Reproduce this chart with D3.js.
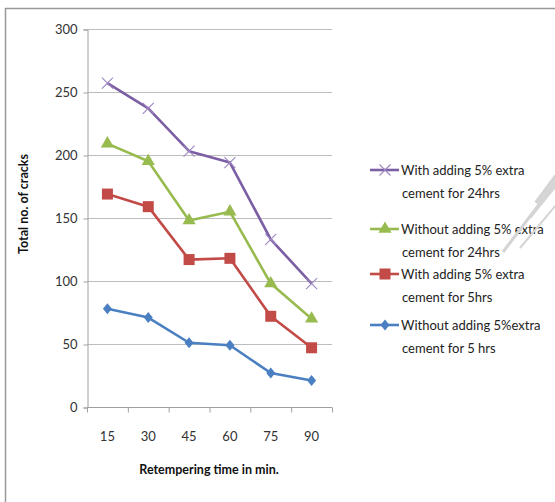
<!DOCTYPE html>
<html>
<head>
<meta charset="utf-8">
<script src="https://cdn.jsdelivr.net/npm/d3@7"></script>
<style>
  html, body { margin: 0; padding: 0; background: #fff; }
  svg text { font-family: Lato, "Open Sans", sans-serif; }
</style>
</head>
<body>
<svg id="chart" width="555" height="502"></svg>
<script>
// Retempering time (min) on the x axis
const categories = ["15", "30", "45", "60", "75", "90"];
const yTicks = [0, 50, 100, 150, 200, 250, 300];

// Total number of cracks for each mix
const withExtra24 = [257, 237, 203, 194, 133, 98];
const withoutExtra24 = [209, 195, 148, 155, 98, 70];
const withExtra5 = [169, 159, 117, 118, 72, 47];
const withoutExtra5 = [78, 71, 51, 49, 27, 21];

const seriesNames = [
  ["With adding 5% extra", "cement for 24hrs"],
  ["Without adding 5% extra", "cement for 24hrs"],
  ["With adding 5% extra", "cement for 5hrs"],
  ["Without adding 5%extra", "cement for 5 hrs"]
];

const series = [
  { name: seriesNames[0], values: withExtra24, color: "#7b5ea3", marker: "x" },
  { name: seriesNames[1], values: withoutExtra24, color: "#98bb4f", marker: "triangle" },
  { name: seriesNames[2], values: withExtra5, color: "#c24a47", marker: "square" },
  { name: seriesNames[3], values: withoutExtra5, color: "#4a7fc1", marker: "diamond" }
];

const svg = d3.select("#chart");

// outer frame (top and left edges)
svg.append("line").attr("x1", 5).attr("y1", 8.5).attr("x2", 555).attr("y2", 8.5)
  .attr("stroke", "#999").attr("stroke-width", 1.5);
svg.append("line").attr("x1", 5.5).attr("y1", 8).attr("x2", 5.5).attr("y2", 502)
  .attr("stroke", "#999").attr("stroke-width", 1.5);

const plot = { left: 87, right: 332, top: 29, bottom: 407 };

const x = d3.scaleBand().domain(categories).range([plot.left, plot.right]);
const y = d3.scaleLinear().domain([0, 300]).range([plot.bottom, plot.top]);

// horizontal gridlines
svg.append("g").selectAll("line").data(yTicks.filter(d => d > 0)).join("line")
  .attr("x1", plot.left).attr("x2", plot.right)
  .attr("y1", d => y(d) + 0.5).attr("y2", d => y(d) + 0.5)
  .attr("stroke", "#bdbdbd").attr("stroke-width", 1.2);

// y axis
const yAxis = svg.append("g").attr("transform", `translate(${plot.left + 0.5},0.5)`)
  .call(d3.axisLeft(y).tickValues(yTicks).tickSize(4).tickPadding(6));
yAxis.select(".domain").attr("stroke", "#a0a0a0");
yAxis.selectAll(".tick line").attr("stroke", "#a0a0a0");
yAxis.selectAll(".tick text").attr("font-size", 13).attr("fill", "#333")
  .attr("font-family", "Lato, sans-serif");

// x axis with ticks between categories
const xAxisG = svg.append("g").attr("transform", `translate(0,${plot.bottom + 0.5})`);
xAxisG.append("line").attr("x1", plot.left).attr("x2", plot.right)
  .attr("stroke", "#a0a0a0");
const bounds = categories.map(c => x(c)).concat([plot.right]);
xAxisG.selectAll("line.tk").data(bounds).join("line").attr("class", "tk")
  .attr("x1", d => d + 0.5).attr("x2", d => d + 0.5).attr("y1", 0).attr("y2", 5)
  .attr("stroke", "#a0a0a0");
xAxisG.selectAll("text").data(categories).join("text")
  .attr("x", d => x(d) + x.bandwidth() / 2).attr("y", 33)
  .attr("text-anchor", "middle").attr("font-size", 13).attr("fill", "#333")
  .text(d => d);

// axis titles
svg.append("text").attr("x", 209).attr("y", 474).attr("text-anchor", "middle")
  .attr("font-size", 12.5).attr("font-weight", "bold").attr("fill", "#111")
  .text("Retempering time in min.");
svg.append("text").attr("transform", "translate(28,204) rotate(-90)")
  .attr("text-anchor", "middle").attr("font-size", 12.5).attr("font-weight", "bold")
  .attr("fill", "#111").text("Total no.  of cracks");

const cx = (c) => x(c) + x.bandwidth() / 2;
const line = d3.line().x((d, i) => cx(categories[i])).y(d => y(d));

function drawMarker(g, type, color, px, py) {
  if (type === "x") {
    const s = 5.5;
    g.append("path").attr("d", `M${px - s},${py - s}L${px + s},${py + s}M${px - s},${py + s}L${px + s},${py - s}`)
      .attr("stroke", "#9d86c2").attr("stroke-width", 1.1).attr("fill", "none");
  } else if (type === "triangle") {
    g.append("path").attr("d", d3.symbol(d3.symbolTriangle, 75)()).attr("transform", `translate(${px},${py})`)
      .attr("fill", color);
  } else if (type === "square") {
    g.append("rect").attr("x", px - 5.5).attr("y", py - 5.5).attr("width", 11).attr("height", 11)
      .attr("fill", color);
  } else if (type === "diamond") {
    const s = 5.5;
    g.append("path").attr("d", `M${px},${py - s}L${px + s - 1},${py}L${px},${py + s}L${px - s + 1},${py}Z`)
      .attr("fill", color);
  }
}

// series lines and markers
series.slice().reverse().forEach(s => {
  const g = svg.append("g");
  g.append("path").datum(s.values).attr("d", line).attr("fill", "none")
    .attr("stroke", s.color).attr("stroke-width", 2.6).attr("stroke-linejoin", "round");
  s.values.forEach((v, i) => drawMarker(g, s.marker, s.color, cx(categories[i]), y(v)));
});

// legend
const legendRows = [170, 229, 274, 325];
series.forEach((s, i) => {
  const g = svg.append("g");
  const ly = legendRows[i];
  g.append("line").attr("x1", 370).attr("x2", 399).attr("y1", ly).attr("y2", ly)
    .attr("stroke", s.color).attr("stroke-width", 2.6);
  drawMarker(g, s.marker, s.color, 385, ly);
  s.name.forEach((t, j) => {
    g.append("text").attr("x", j === 0 ? 401 : 402).attr("y", ly + 4.5 + j * 23)
      .attr("font-size", 13).attr("fill", "#222").text(t);
  });
});

// faint diagonal watermark strokes at the right edge
const wm = svg.append("g").attr("stroke", "#d4d4d4").attr("fill", "none");
wm.append("path").attr("d", "M503,252L556,182").attr("stroke-width", 3);
wm.append("path").attr("d", "M530,218L556,186").attr("stroke-width", 2);
wm.append("path").attr("d", "M536,203L556,176").attr("stroke-width", 4);
wm.append("path").attr("d", "M520,248L556,205").attr("stroke-width", 2);
</script>
</body>
</html>
